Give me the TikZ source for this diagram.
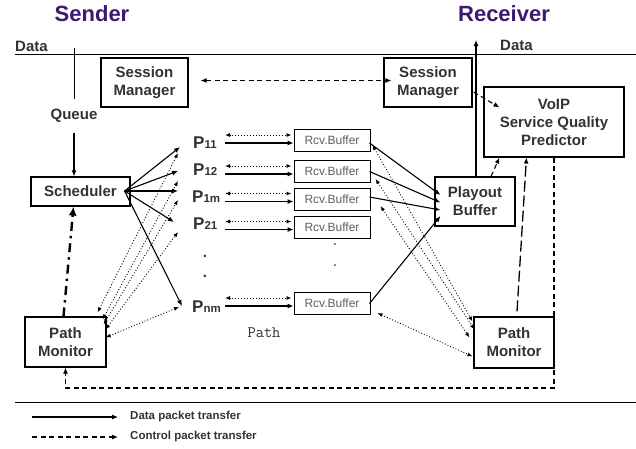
\documentclass[tikz,border=0pt]{standalone}
\usepackage{fontspec}
\setmainfont{Liberation Sans}
\usetikzlibrary{arrows.meta,calc}
\definecolor{titlepurple}{RGB}{62,24,112}
\definecolor{txt}{RGB}{50,50,50}
\definecolor{rcvtxt}{RGB}{95,95,95}
\begin{document}
\begin{tikzpicture}[x=1pt,y=-1pt,
  box/.style={draw, line width=1.1pt, align=center, font=\fontsize{15}{18}\selectfont\bfseries, text=txt, inner sep=0pt},
  rbox/.style={draw, line width=1pt, minimum width=76pt, minimum height=22pt, inner sep=0pt, font=\fontsize{12}{14}\selectfont, text=rcvtxt},
  lbl/.style={font=\fontsize{15}{18}\selectfont\bfseries, text=txt, inner sep=0pt},
  plbl/.style={inner sep=0pt, text=txt, anchor=base west},
  title/.style={font=\fontsize{22}{24}\selectfont\bfseries, text=titlepurple, inner sep=0pt, anchor=base},
  tip/.style={-{Latex[length=6pt,width=5pt]}},
  data/.style={line width=1.1pt, tip},
  dots/.style={line width=0.9pt, dotted, {Latex[length=5pt,width=4pt]}-{Latex[length=5pt,width=4pt]}},
  ctrl/.style={line width=1.1pt, dash pattern=on 5pt off 3.5pt},
  dashdotline/.style={line width=2.4pt, dash pattern=on 9pt off 5pt on 2.5pt off 5pt, -{Latex[length=9pt,width=8pt]}},
  longdash/.style={line width=1.3pt, dash pattern=on 11pt off 4pt, -{Latex[length=6pt,width=5pt]}},
  legtext/.style={anchor=west, font=\fontsize{11.5}{14}\selectfont\bfseries, text=txt, inner sep=0pt},
]
\path[use as bounding box] (0,0) rectangle (636,448);

% titles
\node[title] (sender) at (92,21) {Sender};
\node[title] (receiver) at (504,21) {Receiver};

% top and bottom rules
\coordinate (topL) at (15,54);
\coordinate (topR) at (636,54);
\coordinate (botL) at (15,402);
\coordinate (botR) at (636,402);
\draw[line width=1pt] (topL) -- (topR);
\draw[line width=1pt] (botL) -- (botR);

\node[lbl, anchor=base west] (datal) at (15,51) {Data};
\node[lbl, anchor=base west] (datar) at (500,50) {Data};

% boxes
\node[box, minimum width=87pt, minimum height=49pt] (sml) at (144.5,82.5) {Session\\Manager};
\node[box, minimum width=88pt, minimum height=49pt] (smr) at (428,82.5) {Session\\Manager};
\node[box, minimum width=140pt, minimum height=70pt] (voip) at (554,122) {VoIP\\Service Quality\\Predictor};
\node[box, minimum width=99pt, minimum height=29pt] (sched) at (80.5,191.5) {Scheduler};
\node[box, minimum width=81pt, minimum height=50pt] (pml) at (65.5,342) {Path\\Monitor};
\node[box, minimum width=80pt, minimum height=51pt] (pmr) at (514,342.5) {Path\\Monitor};
\node[box, minimum width=80pt, minimum height=49pt] (play) at (475,201.5) {Playout\\Buffer};

% queue
\node[lbl, inner ysep=10pt] (queue) at (74,116) {Queue};
\coordinate (qtop) at (74,48);
\draw[line width=1pt] (qtop) -- (queue.north);
\draw[data] (queue.south) -- (queue.south |- sched.north);

% P labels
\newcommand{\plab}[1]{{\fontsize{17}{17}\selectfont\bfseries P}{\fontsize{11.5}{11}\selectfont\bfseries #1}}
\node[plbl] (p11) at (193,148) {\plab{11}};
\node[plbl] (p12) at (193,175) {\plab{12}};
\node[plbl] (p1m) at (192,202) {\plab{1m}};
\node[plbl] (p21) at (193,229) {\plab{21}};
\node[plbl] (pnm) at (192,312) {\plab{nm}};
\node[lbl, anchor=base] (pd1) at (205,257) {.};
\node[lbl, anchor=base] (pd2) at (205,277) {.};

% Rcv buffers
\node[rbox] (r1) at (332,140.5) {Rcv.Buffer};
\node[rbox] (r2) at (332,171.5) {Rcv.Buffer};
\node[rbox] (r3) at (332,199) {Rcv.Buffer};
\node[rbox] (r4) at (332,227) {Rcv.Buffer};
\node[rbox] (rn) at (332,303.5) {Rcv.Buffer};
\node[font=\fontsize{12}{14}\selectfont\bfseries, text=rcvtxt, anchor=base, inner sep=0pt] (rd1) at (335,245) {.};
\node[font=\fontsize{12}{14}\selectfont\bfseries, text=rcvtxt, anchor=base, inner sep=0pt] (rd2) at (335,266) {.};

\node[font=\ttfamily\fontsize{16}{18}\selectfont, text=txt, inner sep=0pt] (pathl) at (264,333) {Path};

% P -> Rcv
\coordinate (pcol) at (225,0);
\foreach \r in {r1,r2,r3,r4,rn}{
  \draw[data] ($(pcol |- \r.west)+(0,2.5)$) -- ($(\r.west)+(0,2.5)$);
  \draw[dots] ($(pcol |- \r.west)+(0,-5.5)$) -- ($(\r.west)+(-2,-5.5)$);
}

% Scheduler fan
\coordinate (sfan) at ($(sched.east)+(-6,-0.5)$);
\draw[data] (sfan) -- ($(p11.base west)+(-13,-1)$);
\draw[data] (sfan) -- ($(p12.base west)+(-15,-4)$);
\draw[data] (sfan) -- ($(p1m.base west)+(-14,-11)$);
\draw[data] (sfan) -- ($(p21.base west)+(-19,-7)$);
\draw[data] (sfan) -- ($(pnm.base west)+(-10,-6)$);

% Path monitor left dotted
\draw[dots] ($(pml.north east)+(-9,-4)$) -- ($(p11.base west)+(-15,5)$);
\draw[dots] ($(pml.north east)+(-4,3)$) -- ($(p12.base west)+(-15,6)$);
\draw[dots] ($(pml.north east)+(-3,8)$) -- ($(p1m.base west)+(-14,-2)$);
\draw[dots] ($(pml.north east)+(-1,13)$) -- ($(p21.base west)+(-15,3)$);
\draw[dots] ($(pml.north east)+(-1,21)$) -- ($(pnm.base west)+(-13,-5)$);

% dash-dot PM -> Scheduler
\draw[dashdotline] ($(pml.north)+(-2,0)$) -- ($(sched.south)+(-7,0)$);

% Rcv -> Playout
\draw[data] ($(r1.east)+(-1,2.5)$) -- ($(play.west)+(6,-6.5)$);
\draw[data] ($(r2.east)+(-1,0)$) -- ($(play.west)+(6,1)$);
\draw[data] ($(r3.east)+(-1,-2)$) -- ($(play.west)+(6,8.5)$);
\draw[data] ($(rn.east)+(-1,0)$) -- ($(play.west)+(6,14.5)$);

% Rcv <-> Path monitor right
\draw[dots] ($(r1.east)+(2,4.5)$) -- ($(pmr.north west)+(-1,5)$);
\draw[dots] ($(r2.east)+(5,7.5)$) -- ($(pmr.north west)+(1,13)$);
\draw[dots] ($(r3.east)+(10,7)$) -- ($(pmr.north west)+(-4,21)$);
\draw[dots] ($(rn.east)+(7,9.5)$) -- ($(pmr.north west)+(-1,40)$);

% receiver data out
\coordinate (rdata) at (476,40);
\draw[data] (play.north -| rdata) -- (rdata);

% session manager control
\draw[ctrl, {Latex[length=6pt,width=5pt]}-{Latex[length=6pt,width=5pt]}] ($(sml.east)+(12,-2)$) -- ($(smr.west)+(8,-2)$);
\draw[ctrl, tip] ($(smr.east)+(1,9.5)$) -- ($(voip.north west)+(16,21)$);

% to VoIP
\draw[ctrl, tip] ($(play.north)+(16,0)$) -- ($(voip.south west)+(16,0)$);
\draw[longdash] ($(pmr.north)+(3,-5)$) -- ($(voip.south west)+(43,0)$);

% feedback dashed loop
\coordinate (fbR) at (554,388);
\draw[ctrl, tip] (voip.south -| fbR) -- (fbR) -- (fbR -| pml.south) -- (pml.south);

% legend
\coordinate (l1a) at (32,417);
\coordinate (l1b) at (118,417);
\coordinate (l2a) at (32,437);
\coordinate (l2b) at (118,437);
\draw[data] (l1a) -- (l1b);
\draw[ctrl, tip] (l2a) -- (l2b);
\node[legtext] (leg1) at (130,417) {Data packet transfer};
\node[legtext] (leg2) at (130,437) {Control packet transfer};
\end{tikzpicture}
\end{document}
